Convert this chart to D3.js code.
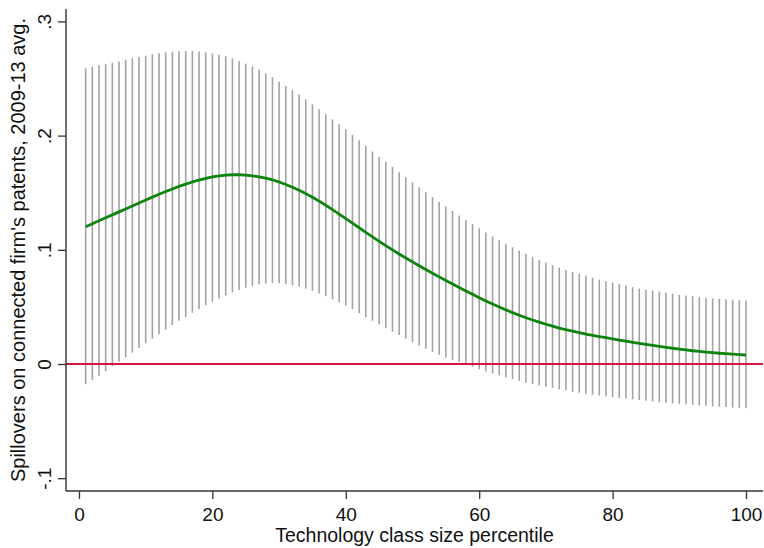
<!DOCTYPE html>
<html>
<head>
<meta charset="utf-8">
<script src="https://cdn.jsdelivr.net/npm/d3@7"></script>
<style>
  html, body { margin: 0; padding: 0; background: #ffffff; }
  svg { display: block; font-family: Arial, "Liberation Sans", Helvetica, sans-serif; }
</style>
</head>
<body>
<svg id="chart" width="764" height="548"></svg>
<script>
// Technology class size percentile (x positions of each estimate)
const percentile = [
  1, 2, 3, 4, 5, 6, 7, 8, 9, 10, 11, 12, 13, 14, 15, 16, 17, 18, 19, 20,
  21, 22, 23, 24, 25, 26, 27, 28, 29, 30, 31, 32, 33, 34, 35, 36, 37, 38, 39, 40,
  41, 42, 43, 44, 45, 46, 47, 48, 49, 50, 51, 52, 53, 54, 55, 56, 57, 58, 59, 60,
  61, 62, 63, 64, 65, 66, 67, 68, 69, 70, 71, 72, 73, 74, 75, 76, 77, 78, 79, 80,
  81, 82, 83, 84, 85, 86, 87, 88, 89, 90, 91, 92, 93, 94, 95, 96, 97, 98, 99, 100
];

// Point estimate of the spillover effect
const estimate = [
  .1202, .1228, .1254, .1280, .1306, .1332, .1358, .1384, .1410, .1436,
  .1461, .1486, .1510, .1533, .1555, .1575, .1594, .1611, .1626, .1638,
  .1648, .1654, .1657, .1657, .1654, .1648, .1639, .1627, .1612, .1594,
  .1572, .1548, .1521, .1492, .1460, .1426, .1390, .1352, .1313, .1273,
  .1233, .1193, .1153, .1113, .1074, .1036, .0999, .0963, .0928, .0894,
  .0860, .0827, .0795, .0763, .0732, .0701, .0670, .0640, .0610, .0580,
  .0552, .0525, .0499, .0474, .0450, .0427, .0405, .0385, .0366, .0348,
  .0331, .0315, .0300, .0287, .0274, .0262, .0251, .0240, .0230, .0220,
  .0210, .0200, .0190, .0181, .0172, .0163, .0154, .0146, .0138, .0130,
  .0123, .0116, .0110, .0104, .0099, .0094, .0090, .0086, .0082, .0079
];

// Upper bound of the confidence interval
const upper = [
  .2589, .2603, .2616, .2625, .2638, .2651, .2665, .2677, .2688, .2700,
  .2712, .2722, .2729, .2735, .2738, .2740, .2740, .2736, .2728, .2720,
  .2708, .2695, .2675, .2654, .2630, .2604, .2577, .2546, .2511, .2473,
  .2435, .2398, .2360, .2318, .2274, .2230, .2187, .2143, .2099, .2055,
  .2005, .1959, .1908, .1860, .1815, .1770, .1725, .1680, .1635, .1590,
  .1547, .1505, .1462, .1420, .1380, .1340, .1300, .1262, .1225, .1188,
  .1152, .1118, .1085, .1053, .1022, .0993, .0965, .0938, .0912, .0888,
  .0865, .0843, .0823, .0806, .0791, .0774, .0756, .0739, .0725, .0713,
  .0702, .0687, .0673, .0660, .0652, .0643, .0634, .0623, .0614, .0606,
  .0600, .0594, .0586, .0580, .0574, .0571, .0566, .0563, .0560, .0557
];

// Lower bound of the confidence interval
const lower = [
  -.0178, -.0140, -.0102, -.0061, -.0018, .0020, .0059, .0099, .0140, .0181,
  .0222, .0260, .0302, .0341, .0378, .0412, .0448, .0482, .0514, .0545,
  .0573, .0601, .0627, .0649, .0668, .0684, .0697, .0705, .0708, .0706,
  .0700, .0690, .0677, .0660, .0640, .0618, .0594, .0568, .0541, .0512,
  .0480, .0447, .0412, .0378, .0345, .0313, .0283, .0253, .0222, .0192,
  .0162, .0133, .0106, .0081, .0058, .0037, .0017, -.0003, -.0025, -.0046,
  -.0065, -.0082, -.0099, -.0116, -.0133, -.0149, -.0164, -.0176, -.0188, -.0199,
  -.0210, -.0222, -.0233, -.0243, -.0252, -.0261, -.0269, -.0277, -.0284, -.0290,
  -.0297, -.0303, -.0309, -.0315, -.0322, -.0328, -.0333, -.0339, -.0344, -.0349,
  -.0354, -.0358, -.0362, -.0366, -.0370, -.0374, -.0377, -.0381, -.0384, -.0388
];

const xTicks = [0, 20, 40, 60, 80, 100];
const xTickLabels = ["0", "20", "40", "60", "80", "100"];
const yTicks = [-0.1, 0, 0.1, 0.2, 0.3];
const yTickLabels = ["-.1", "0", ".1", ".2", ".3"];
const xTitle = "Technology class size percentile";
const yTitle = "Spillovers on connected firm's patents, 2009-13 avg.";

const rows = percentile.map((p, i) => ({ p, est: estimate[i], lo: lower[i], hi: upper[i] }));

const svg = d3.select("#chart");

// Plot region edges
const plotLeft = 66, plotRight = 763, plotTop = 9, plotBottom = 491;

const x = d3.scaleLinear().domain([0, 100]).range([79, 746]);
const y = d3.scaleLinear().domain([-0.1, 0.3]).range([478.2, 21.4]);

// Confidence interval spikes
svg.append("g")
  .selectAll("line")
  .data(rows)
  .join("line")
  .attr("x1", d => x(d.p)).attr("x2", d => x(d.p))
  .attr("y1", d => y(d.lo)).attr("y2", d => y(d.hi))
  .attr("stroke", "#a3a3a3")
  .attr("stroke-width", 1.6);

// Zero reference line
svg.append("line")
  .attr("x1", plotLeft).attr("x2", plotRight)
  .attr("y1", y(0)).attr("y2", y(0))
  .attr("stroke", "#d4163f")
  .attr("stroke-width", 2);

// Point estimate curve
svg.append("path")
  .datum(rows)
  .attr("fill", "none")
  .attr("stroke", "#0d840d")
  .attr("stroke-width", 2.8)
  .attr("stroke-linejoin", "round")
  .attr("d", d3.line().x(d => x(d.p)).y(d => y(d.est)));

// Y axis
const yAxis = svg.append("g")
  .attr("transform", `translate(${plotLeft},0)`)
  .call(d3.axisLeft(y).tickValues(yTicks).tickSize(8).tickSizeOuter(0)
    .tickFormat((d, i) => yTickLabels[i]));
yAxis.select(".domain").remove();
yAxis.selectAll(".tick line").attr("stroke", "#333").attr("stroke-width", 1.3);
yAxis.selectAll(".tick text")
  .attr("transform", "rotate(-90)")
  .attr("x", 0).attr("y", -15).attr("dy", 0)
  .attr("text-anchor", "middle")
  .attr("fill", "#111")
  .style("font-size", "19px");
yAxis.append("line")
  .attr("x1", 0).attr("x2", 0).attr("y1", plotTop).attr("y2", plotBottom)
  .attr("stroke", "#333").attr("stroke-width", 1.4);

// X axis
const xAxis = svg.append("g")
  .attr("transform", `translate(0,${plotBottom})`)
  .call(d3.axisBottom(x).tickValues(xTicks).tickSize(8).tickSizeOuter(0)
    .tickFormat((d, i) => xTickLabels[i]));
xAxis.select(".domain").remove();
xAxis.selectAll(".tick line").attr("stroke", "#333").attr("stroke-width", 1.3);
xAxis.selectAll(".tick text")
  .attr("y", 30).attr("dy", 0)
  .attr("fill", "#111")
  .style("font-size", "19px");
xAxis.append("line")
  .attr("x1", plotLeft).attr("x2", plotRight).attr("y1", 0).attr("y2", 0)
  .attr("stroke", "#333").attr("stroke-width", 1.4);

// Axis titles
svg.append("text")
  .attr("x", (plotLeft + plotRight) / 2).attr("y", 542)
  .attr("text-anchor", "middle")
  .attr("fill", "#111")
  .style("font-size", "19.5px")
  .text(xTitle);

svg.append("text")
  .attr("transform", `translate(25,${(plotTop + plotBottom) / 2}) rotate(-90)`)
  .attr("text-anchor", "middle")
  .attr("fill", "#111")
  .style("font-size", "20px")
  .text(yTitle);
</script>
</body>
</html>
